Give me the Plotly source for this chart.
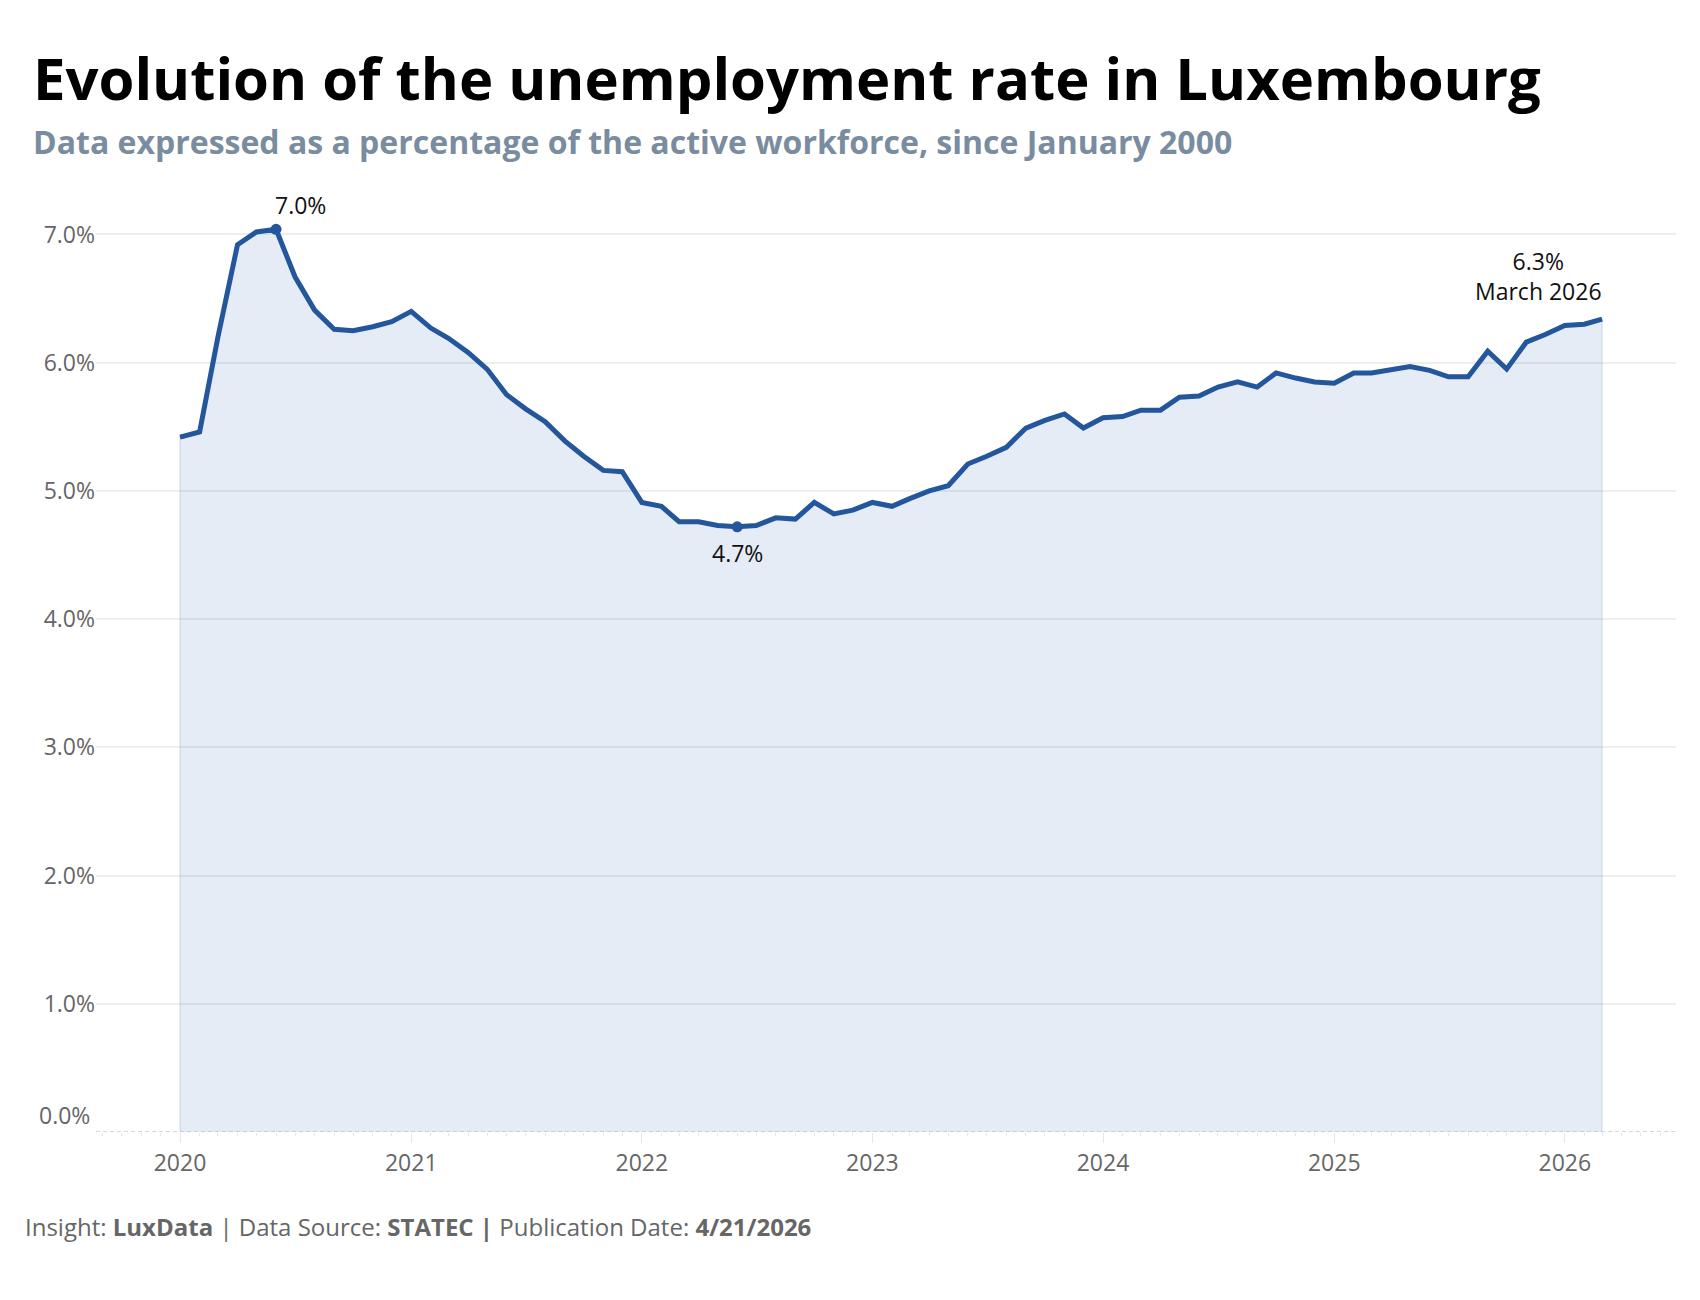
import pandas as pd
import plotly.graph_objects as go

# ---- data ----
start_month = "2020-01-01"
rate_2020 = [5.42, 5.46, 6.20, 6.92, 7.02, 7.04, 6.67, 6.41, 6.26, 6.25, 6.28, 6.32]
rate_2021 = [6.40, 6.27, 6.19, 6.08, 5.95, 5.75, 5.64, 5.54, 5.39, 5.27, 5.16, 5.15]
rate_2022 = [4.91, 4.88, 4.76, 4.76, 4.73, 4.72, 4.73, 4.79, 4.78, 4.91, 4.82, 4.85]
rate_2023 = [4.91, 4.88, 4.94, 5.00, 5.04, 5.21, 5.27, 5.34, 5.49, 5.55, 5.60, 5.49]
rate_2024 = [5.57, 5.58, 5.63, 5.63, 5.73, 5.74, 5.81, 5.85, 5.81, 5.92, 5.88, 5.85]
rate_2025 = [5.84, 5.92, 5.92, 5.95, 5.97, 5.94, 5.89, 5.89, 6.09, 5.95, 6.16, 6.22]
rate_2026 = [6.29, 6.30, 6.34]
year_ticks = ["2020", "2021", "2022", "2023", "2024", "2025", "2026"]
y_ticks = [0, 1, 2, 3, 4, 5, 6, 7]

rates = rate_2020 + rate_2021 + rate_2022 + rate_2023 + rate_2024 + rate_2025 + rate_2026
dates = pd.date_range(start_month, periods=len(rates), freq="MS")

LINE = "#24569B"
FILL = "rgba(38,98,178,0.12)"
GREY = "#666666"
FONT = "Open Sans"

# plot area in pixels
W, H = 1700, 1300
ML, MR, MT, MB = 96, 24, 196, 168
PW, PH = W - ML - MR, H - MT - MB


def px_x(p):
    return (p - ML) / PW


def px_y(p):
    return (H - MB - p) / PH


fig = go.Figure()

# filled area (with light vertical edges)
fig.add_trace(go.Scatter(
    x=[dates[0]] + list(dates) + [dates[-1]],
    y=[0] + rates + [0],
    mode="lines", fill="toself", fillcolor=FILL,
    line=dict(color="rgba(36,86,155,0.13)", width=1.5),
    hoverinfo="skip", showlegend=False,
))

# main line
fig.add_trace(go.Scatter(
    x=dates, y=rates, mode="lines",
    line=dict(color=LINE, width=5),
    showlegend=False,
))

i_max = max(range(len(rates)), key=lambda i: rates[i])
i_min = min(range(len(rates)), key=lambda i: rates[i])
fig.add_trace(go.Scatter(
    x=[dates[i_max], dates[i_min]], y=[rates[i_max], rates[i_min]],
    mode="markers", marker=dict(color=LINE, size=11),
    showlegend=False,
))

ann_font = dict(family=FONT, size=23, color="#111111")
annotations = [
    dict(x=dates[i_max], y=rates[i_max], text=f"{rates[i_max]:.1f}%",
         showarrow=False, xanchor="left", yanchor="middle", xshift=-3, yshift=24,
         font=ann_font),
    dict(x=dates[i_min], y=rates[i_min], text=f"{rates[i_min]:.1f}%",
         showarrow=False, xanchor="center", yanchor="middle", yshift=-26,
         font=ann_font),
    dict(x=dates[-1], y=rates[-1],
         text=f"{rates[-1]:.1f}%<br>{dates[-1].strftime('%B %Y')}",
         showarrow=False, xanchor="right", yanchor="middle", align="center",
         xshift=2, yshift=43, font=ann_font),
    # 0.0% label (sits slightly above the baseline in the reference)
    dict(xref="paper", yref="y", x=0, y=0, text="0.0%", showarrow=False,
         xanchor="right", yanchor="middle", xshift=-4, yshift=17,
         font=dict(family=FONT, size=23, color=GREY)),
    # title
    dict(xref="paper", yref="paper", x=px_x(31), y=px_y(77),
         text="<b>Evolution of the unemployment rate in Luxembourg</b>",
         showarrow=False, xanchor="left", yanchor="middle",
         font=dict(family=FONT, size=58, color="#000000")),
    # subtitle
    dict(xref="paper", yref="paper", x=px_x(31), y=px_y(141),
         text="<b>Data expressed as a percentage of the active workforce, since January 2000</b>",
         showarrow=False, xanchor="left", yanchor="middle",
         font=dict(family=FONT, size=32, color="#7A8CA0")),
    # footer
    dict(xref="paper", yref="paper", x=px_x(23), y=px_y(1226),
         text="Insight: <b>LuxData</b> | Data Source: <b>STATEC |</b> Publication Date: <b>4/21/2026</b>",
         showarrow=False, xanchor="left", yanchor="middle",
         font=dict(family=FONT, size=24, color=GREY)),
]

shapes = [
    dict(type="line", xref="paper", yref="y", x0=0, x1=1, y0=0, y1=0,
         line=dict(color="#A8B0BE", width=1.2, dash="4px,3px"), layer="above"),
]

fig.update_layout(
    width=W, height=H,
    margin=dict(l=ML, r=MR, t=MT, b=MB),
    paper_bgcolor="white", plot_bgcolor="white",
    font=dict(family=FONT, color=GREY),
    annotations=annotations, shapes=shapes,
    showlegend=False,
)

fig.update_xaxes(
    type="date",
    range=["2019-08-21", "2026-06-26"],
    tickvals=[pd.Timestamp(f"{y}-01-01") for y in year_ticks],
    ticktext=year_ticks,
    ticks="outside", ticklen=10, tickcolor="#E6E6E6", tickwidth=1,
    minor=dict(ticks="outside", dtick="M1", tick0="2020-01-01", ticklen=3,
               tickcolor="#E6E6E6", showgrid=False),
    showgrid=False, zeroline=False, showline=False,
    tickfont=dict(family=FONT, size=23, color=GREY),
)

fig.update_yaxes(
    range=[0, 7.3],
    tickvals=y_ticks,
    ticktext=["" if v == 0 else f"{v:.1f}%" for v in y_ticks],
    showgrid=True, gridcolor="#EEEEEE", gridwidth=1.5,
    zeroline=False, showline=False, ticks="",
    tickfont=dict(family=FONT, size=23, color=GREY),
)

fig.write_html("out.html")
